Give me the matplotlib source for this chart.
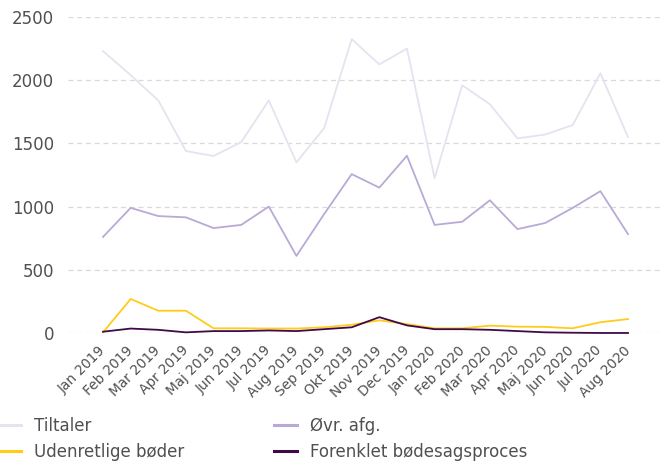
import matplotlib.pyplot as plt
from matplotlib.lines import Line2D

# --- DATA ---
months = ["Jan 2019", "Feb 2019", "Mar 2019", "Apr 2019", "Maj 2019", "Jun 2019",
          "Jul 2019", "Aug 2019", "Sep 2019", "Okt 2019", "Nov 2019", "Dec 2019",
          "Jan 2020", "Feb 2020", "Mar 2020", "Apr 2020", "Maj 2020", "Jun 2020",
          "Jul 2020", "Aug 2020"]
tiltaler = [2230, 2040, 1840, 1440, 1400, 1510, 1840, 1350, 1620, 2325,
            2125, 2250, 1225, 1960, 1810, 1540, 1570, 1645, 2055, 1550]
ovr_afg = [760, 990, 925, 915, 830, 855, 1000, 610, 940, 1257,
           1150, 1402, 855, 880, 1050, 822, 870, 990, 1122, 782]
udenretlige = [5, 269, 176, 176, 37, 37, 35, 35, 45, 65,
               100, 70, 37, 37, 58, 50, 48, 37, 85, 110]
forenklet = [10, 35, 25, 5, 15, 15, 20, 15, 30, 45,
             125, 60, 30, 30, 25, 15, 5, 2, 0, 0]

series = [("Tiltaler", tiltaler, "#e6e2f0"),
          ("Udenretlige bøder", udenretlige, "#ffcc1a"),
          ("Øvr. afg.", ovr_afg, "#b9aad5"),
          ("Forenklet bødesagsproces", forenklet, "#3f0a47")]

fig = plt.figure(figsize=(6.66, 4.61), dpi=100)
ax = fig.add_axes([0.102, 0.2777, 0.892, 0.6854])

x = list(range(len(months)))
# light lines first, dark last
for name in ["Tiltaler", "Øvr. afg.", "Udenretlige bøder", "Forenklet bødesagsproces"]:
    label, vals, color = next(s for s in series if s[0] == name)
    ax.plot(x, vals, color=color, lw=1.3, clip_on=False, zorder=3)

ax.set_xlim(-1.27, 20.23)
ax.set_ylim(0, 2500)
ax.set_yticks([0, 500, 1000, 1500, 2000, 2500])
ax.set_xticks(x)
ax.set_xticklabels(months, rotation=45, ha="right", va="center",
                   rotation_mode="anchor")

ax.grid(axis="y", color="#d9d9d9", linestyle=(0, (4, 3)), lw=0.9)
ax.set_axisbelow(True)
for sp in ax.spines.values():
    sp.set_visible(False)
ax.tick_params(axis="both", length=0, colors="#505050")
ax.tick_params(axis="y", labelsize=12, pad=10)
ax.tick_params(axis="x", labelsize=9.8, pad=11)

handles = [Line2D([], [], color=c, lw=2.2) for _, _, c in series]
labels = [s[0] for s in series]
fig.legend(handles, labels, loc="lower left", bbox_to_anchor=(-0.003, 0.0),
           bbox_transform=fig.transFigure, ncol=2, frameon=False,
           fontsize=12, handlelength=1.35, handletextpad=0.8,
           columnspacing=5.4, labelspacing=0.5, borderpad=0, borderaxespad=0,
           labelcolor="#505050")

fig.savefig("out.png", dpi=100)
